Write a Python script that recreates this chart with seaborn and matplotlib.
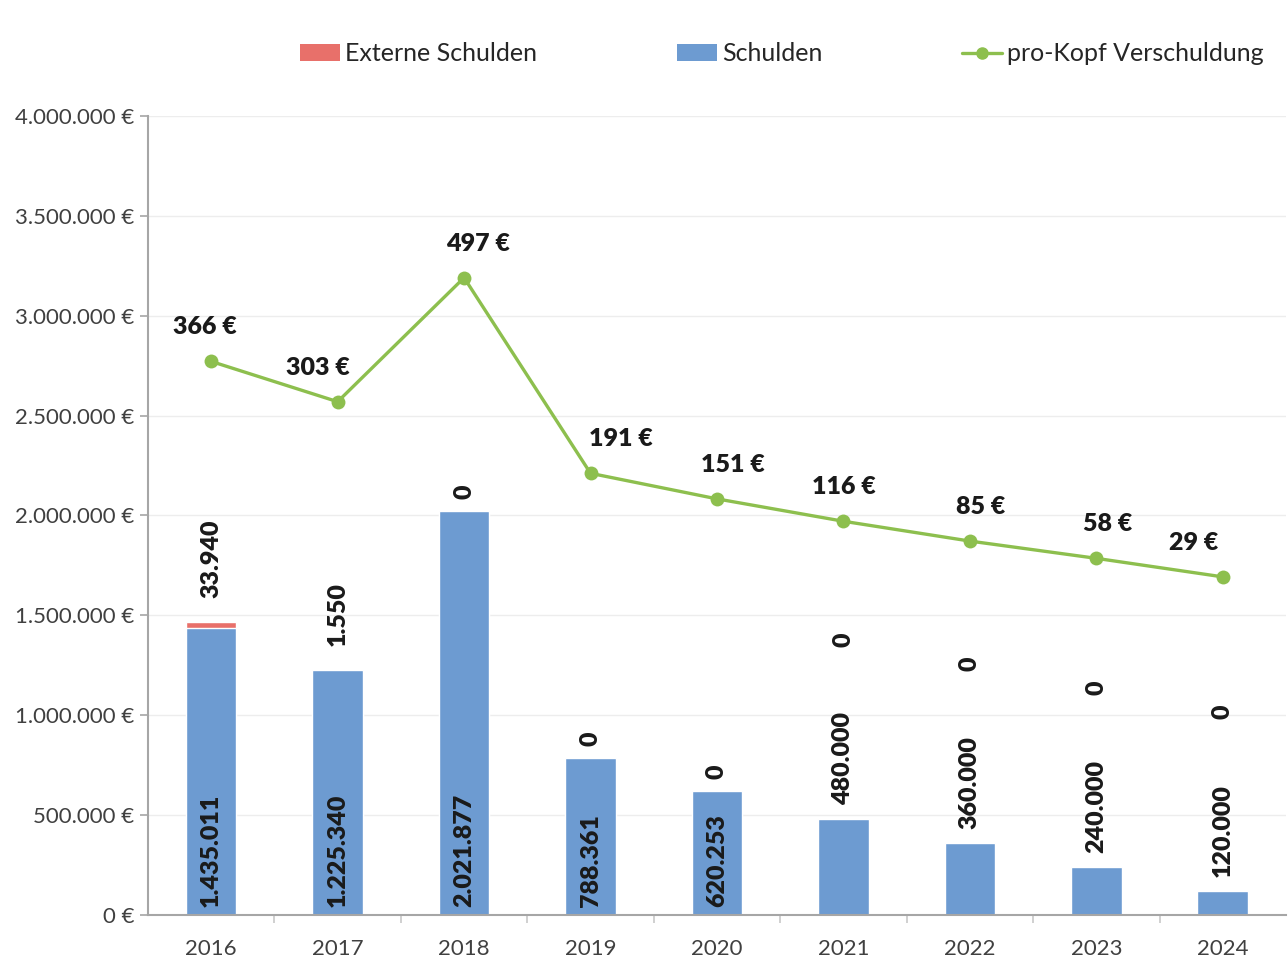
import numpy as np
import pandas as pd
import matplotlib
matplotlib.use('Agg')
import matplotlib.pyplot as plt
import seaborn as sns
from matplotlib.ticker import FuncFormatter, FixedLocator
from matplotlib.lines import Line2D
from matplotlib.patches import Patch


# DATA
years = ['2016', '2017', '2018', '2019', '2020', '2021', '2022', '2023', '2024']
schulden = [1435011, 1225340, 2021877, 788361, 620253, 480000, 360000, 240000, 120000]
externe_schulden = [33940, 1550, 0, 0, 0, 0, 0, 0, 0]
pro_kopf = [366, 303, 497, 191, 151, 116, 85, 58, 29]

# small horizontal shifts of the per-capita labels (pixels), like in the original
label_dx = [-6, -20, 14, 30, 16, 0, 11, 11, -29]

blue = '#6d9bd1'
red = '#e8706a'
green = '#8dbf4e'
text_col = '#1a1a1a'

sns.set_theme(style='white')
plt.rcParams['font.family'] = ['Lato', 'DejaVu Sans']

df = pd.DataFrame({
    'Jahr': years,
    'Schulden': schulden,
    'Extern': externe_schulden,
})
df['Gesamt'] = df['Schulden'] + df['Extern']


def de_format(v):
    return f"{v:,.0f}".replace(',', '.')


fig = plt.figure(figsize=(12.88, 9.64), dpi=100)
ax = fig.add_axes([0.1149, 0.0508, 0.8835, 0.8289])

# stacked bars: total in red, debt in blue on top of it
sns.barplot(data=df, x='Jahr', y='Gesamt', color=red, width=0.4, saturation=1, ax=ax)
sns.barplot(data=df, x='Jahr', y='Schulden', color=blue, width=0.4, saturation=1, ax=ax)

ax.set_xlim(-0.5, len(years) - 0.5)
ax.set_ylim(0, 4000000)
ax.set_yticks(np.arange(0, 4000001, 500000))
ax.yaxis.set_major_formatter(FuncFormatter(lambda v, p: de_format(v) + ' €'))
ax.set_xlabel('')
ax.set_ylabel('')
ax.grid(axis='y', color='#ededed', linewidth=1)
ax.set_axisbelow(True)

for side in ['top', 'right']:
    ax.spines[side].set_visible(False)
for side in ['left', 'bottom']:
    ax.spines[side].set_color('#a6a6a6')
    ax.spines[side].set_linewidth(1.5)

ax.tick_params(axis='y', which='major', length=6, width=1.2, color='#a6a6a6',
               labelsize=16, labelcolor='#404040', pad=4, left=True)
ax.tick_params(axis='x', which='major', length=0, labelsize=16, labelcolor='#404040', pad=17)
ax.xaxis.set_minor_locator(FixedLocator(np.arange(0.5, len(years) - 0.5, 1)))
ax.tick_params(axis='x', which='minor', length=6, width=1.2, color='#c8c8c8', bottom=True)

# bar labels
px = 0.72  # points per pixel at 100 dpi
lab_kw = dict(textcoords='offset points', rotation=90, ha='center', va='bottom',
              fontsize=18, fontweight='heavy', color=text_col)
for i, row in df.iterrows():
    if row['Schulden'] > 600000:
        ax.annotate(de_format(row['Schulden']), (i, 0), xytext=(0, 8 * px), **lab_kw)
        ext_off = 12 if row['Extern'] < 1000 else 24
        ax.annotate(de_format(row['Extern']), (i, row['Gesamt']), xytext=(0, ext_off * px), **lab_kw)
    else:
        ax.annotate(de_format(row['Schulden']), (i, row['Gesamt']), xytext=(0, 14 * px), **lab_kw)
        ax.annotate(de_format(row['Extern']), (i, row['Gesamt']), xytext=(0, 172 * px), **lab_kw)

# per-capita debt on a hidden secondary axis
ax2 = ax.twinx()
sns.lineplot(x=np.arange(len(years)), y=pro_kopf, ax=ax2, color=green, linewidth=2.4,
             marker='o', markersize=10, markeredgewidth=0, legend=False)
ax2.set_ylim(-500, 750)
ax2.set_yticks([])
ax2.set_ylabel('')
for side in ax2.spines:
    ax2.spines[side].set_visible(False)

for i, v in enumerate(pro_kopf):
    ax2.annotate(f'{v} €', (i, v), xytext=(label_dx[i] * px, 23 * px),
                 textcoords='offset points', ha='center', va='bottom',
                 fontsize=18, fontweight='heavy', color=text_col)

# legend at the top
handles = [
    Patch(facecolor=red, edgecolor='none'),
    Patch(facecolor=blue, edgecolor='none'),
    Line2D([0], [0], color=green, linewidth=2.4, marker='o', markersize=8),
]
labels = ['Externe Schulden', 'Schulden', 'pro-Kopf Verschuldung']
fig.legend(handles, labels, loc='center', bbox_to_anchor=(0.607, 0.944), ncol=3,
           frameon=False, fontsize=18, columnspacing=5.6, handlelength=1.6,
           handletextpad=0.2, labelcolor='#262626')

fig.savefig('out.png', dpi=100)
